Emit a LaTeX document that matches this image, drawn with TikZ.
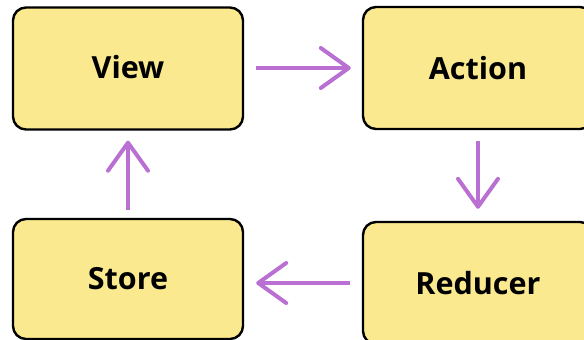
\documentclass[tikz,border=0pt]{standalone}
\usepackage{fontspec}
\setmainfont{Open Sans}
\usetikzlibrary{arrows.meta}
\definecolor{boxfill}{HTML}{FAE98F}
\definecolor{flow}{HTML}{BA6FD2}
\begin{document}
\begin{tikzpicture}[x=1pt,y=-1pt,
  stage/.style={draw=black, line width=2.4pt, fill=boxfill, rounded corners=13pt,
    minimum width=230pt, minimum height=122pt, inner sep=0pt,
    font=\fontsize{30.5}{36}\selectfont\bfseries},
  flowarrow/.style={draw=flow, line width=4pt,
    -{Straight Barb[length=28pt, width=40pt, line cap=round, line join=round]}}]
  \useasboundingbox (0,0) rectangle (584,340);
  \node[stage] (view)    at (128,68.5) {\raisebox{3pt}{View}};
  \node[stage] (action)  at (478,68)  {Action};
  \node[stage, minimum height=120pt] (store) at (128,279) {Store};
  \node[stage] (reducer) at (478,283) {\raisebox{1pt}{Reducer}};
  \draw[flowarrow, shorten <=12pt, shorten >=11pt] (view.east |- action.west) -- (action.west);
  \draw[flowarrow, shorten <=11pt, shorten >=12pt] (action.south) -- (reducer.north);
  \draw[flowarrow, shorten <=12pt, shorten >=12pt] (reducer.west) -- (reducer.west -| store.east);
  \draw[flowarrow, shorten <=8pt, shorten >=10pt] (store.north) -- (view.south);
\end{tikzpicture}
\end{document}
